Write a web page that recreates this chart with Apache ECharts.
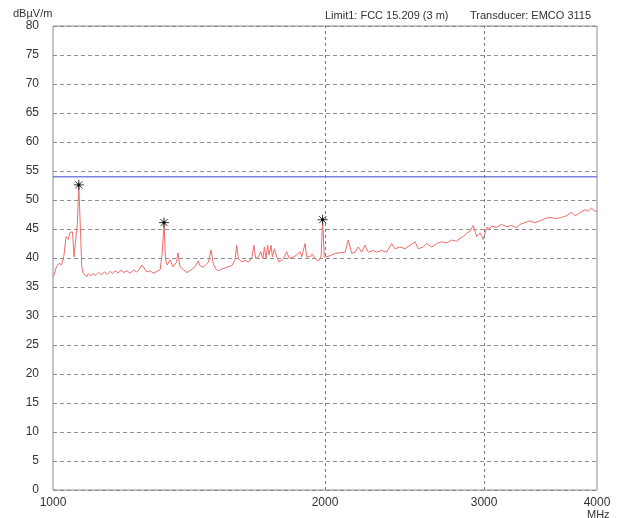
<!DOCTYPE html>
<html>
<head>
<meta charset="utf-8">
<script src="https://cdn.jsdelivr.net/npm/echarts@6/dist/echarts.min.js"></script>
<style>
  html, body { margin: 0; padding: 0; background: #fff; }
  #chart { width: 623px; height: 518px; }
</style>
</head>
<body>
<div id="chart"></div>
<script>
// Measured field strength sweep, 1–4 GHz
const freqMHz = [
  1001, 1009, 1016, 1022, 1028, 1034, 1037, 1040, 1044, 1049, 1051, 1055, 1060, 1064, 1068,
  1073, 1076, 1080, 1090, 1094, 1101, 1108, 1116, 1124, 1132, 1140, 1148, 1157, 1164, 1172,
  1181, 1189, 1198, 1206, 1217, 1227, 1238, 1246, 1254, 1261, 1270, 1280, 1291, 1303, 1314,
  1321, 1327, 1332, 1338, 1347, 1358, 1370, 1375, 1382, 1394, 1407, 1418, 1436, 1448, 1454,
  1467, 1486, 1496, 1505, 1514, 1524, 1537, 1557, 1577, 1590, 1597, 1604, 1618, 1631, 1645,
  1659, 1669, 1676, 1688, 1698, 1707, 1714, 1721, 1728, 1734, 1743, 1749, 1758, 1768, 1779,
  1791, 1803, 1814, 1826, 1845, 1861, 1877, 1885, 1901, 1909, 1925, 1936, 1950, 1966, 1980,
  1988, 1996, 2009, 2034, 2052, 2078, 2105, 2122, 2141, 2159, 2177, 2196, 2214, 2233, 2262,
  2282, 2311, 2340, 2370, 2390, 2421, 2452, 2484, 2516, 2537, 2569, 2592, 2625, 2659, 2693,
  2727, 2762, 2797, 2821, 2845, 2870, 2894, 2906, 2918, 2944, 2969, 2994, 3020, 3045, 3058,
  3098, 3137, 3178, 3218, 3260, 3287, 3329, 3372, 3415, 3459, 3504, 3548, 3610, 3656, 3703,
  3750, 3782, 3814, 3847, 3880, 3912, 3946, 3980, 4000
];
const levelDb = [
  36.8, 38.5, 39.1, 38.8, 40.3, 43.7, 44.0, 43.2, 44.4, 44.6, 44.5, 40.2, 40.2, 46.0, 52.6,
  43.7, 38.5, 37.4, 36.8, 37.3, 36.9, 37.3, 37.0, 37.5, 37.1, 37.6, 37.2, 37.7, 37.3, 37.8,
  37.4, 37.9, 37.5, 37.8, 37.4, 37.9, 37.6, 38.0, 38.8, 38.3, 37.6, 37.8, 37.4, 37.7, 38.0,
  40.9, 46.1, 39.7, 38.8, 39.7, 38.5, 39.3, 40.9, 38.5, 38.0, 37.5, 37.8, 38.5, 39.5, 38.7,
  38.4, 39.3, 41.4, 38.9, 38.1, 37.8, 38.1, 38.4, 38.7, 39.6, 42.2, 39.9, 39.3, 39.6, 39.3,
  39.9, 42.2, 39.9, 40.2, 41.1, 39.9, 41.9, 40.0, 42.2, 40.5, 42.2, 40.2, 41.6, 40.2, 39.3,
  39.6, 40.2, 41.1, 39.9, 40.2, 40.5, 41.1, 40.2, 42.5, 40.2, 40.2, 40.7, 39.9, 39.5, 40.2,
  46.6, 40.2, 40.2, 40.5, 40.8, 40.9, 41.0, 43.1, 40.8, 41.0, 41.9, 41.0, 42.2, 41.0, 41.3,
  41.0, 41.3, 41.0, 42.5, 41.6, 41.9, 41.6, 42.2, 42.8, 41.6, 41.9, 42.5, 41.9, 42.5, 42.8,
  42.6, 43.1, 42.9, 43.4, 43.7, 44.3, 44.6, 44.9, 45.6, 43.7, 44.3, 43.2, 45.3, 45.1, 45.5,
  45.3, 45.8, 45.4, 45.6, 45.2, 45.8, 46.1, 46.4, 46.1, 46.4, 46.8, 47.0, 46.8, 47.0, 47.3,
  47.9, 47.3, 47.6, 48.0, 48.3, 48.1, 48.6, 48.0, 48.2
];

// Peak markers
const peakFreqMHz = [1068, 1327, 1988];
const peakLevelDb = [52.6, 46.1, 46.6];

// FCC 15.209 (3 m) limit, 1–4 GHz
const limitDb = 54;
const limitFreqMHz = [1000, 4000];

// Axis ticks
const xTickMHz = [1000, 2000, 3000, 4000];
const xGridMHz = [2000, 3000];
const yMin = 0, yMax = 80, yStep = 5;

const FONT = '"Liberation Sans", Arial, sans-serif';
const TEXT = '#333';

const trace = freqMHz.map((f, i) => [f, levelDb[i]]);
const peaks = peakFreqMHz.map((f, i) => [f, peakLevelDb[i]]);
const limit = limitFreqMHz.map(f => [f, limitDb]);

const headerStyle = { fontFamily: FONT, fontSize: 11, fontWeight: 'normal', color: TEXT };

const chart = echarts.init(document.getElementById('chart'), null, { renderer: 'canvas' });

chart.setOption({
  animation: false,
  backgroundColor: '#fff',
  title: [
    { text: 'dBµV/m', left: 13, top: 8, padding: 0, textStyle: headerStyle },
    { text: 'Limit1: FCC 15.209 (3 m)', left: 325, top: 10, padding: 0, textStyle: headerStyle },
    { text: 'Transducer: EMCO 3115', left: 470, top: 10, padding: 0, textStyle: headerStyle },
    { text: 'MHz', left: 587, top: 509, padding: 0, textStyle: headerStyle }
  ],
  grid: {
    left: 53, right: 26, top: 26, bottom: 28,
    show: true, borderColor: '#8c8c8c', borderWidth: 1, backgroundColor: '#fff'
  },
  xAxis: {
    type: 'log',
    logBase: 10,
    min: 1000,
    max: 4000,
    axisLine: { show: false },
    axisTick: { show: false },
    splitLine: { show: false },
    minorSplitLine: { show: false },
    axisLabel: {
      customValues: xTickMHz,
      formatter: v => String(Math.round(v)),
      margin: 7,
      fontFamily: FONT, fontSize: 12, color: TEXT
    }
  },
  yAxis: {
    type: 'value',
    min: yMin,
    max: yMax,
    interval: yStep,
    axisLine: { show: false },
    axisTick: { show: false },
    axisLabel: { margin: 14, fontFamily: FONT, fontSize: 12, color: TEXT },
    splitLine: {
      show: true,
      lineStyle: { color: '#8f8f8f', width: 1, type: [4, 3] }
    }
  },
  series: [
    {
      name: 'grid',
      type: 'line',
      data: [],
      silent: true,
      markLine: {
        silent: true,
        symbol: 'none',
        label: { show: false },
        lineStyle: { color: '#7a7a7a', width: 1, type: [3, 3] },
        data: xGridMHz.map(f => ({ xAxis: f }))
      }
    },
    {
      name: 'Limit1',
      type: 'line',
      data: limit,
      showSymbol: false,
      silent: true,
      lineStyle: { color: '#7d82dc', width: 1.5 },
      z: 3
    },
    {
      name: 'Level',
      type: 'line',
      data: trace,
      showSymbol: false,
      silent: true,
      lineStyle: { color: '#f06b6b', width: 1 },
      z: 4
    },
    {
      name: 'Peaks',
      type: 'custom',
      data: peaks,
      silent: true,
      z: 5,
      renderItem: (params, api) => {
        const c = api.coord([api.value(0), api.value(1)]);
        const r = 5;
        const d = r * 0.7071;
        const spokes = [
          [c[0] - r, c[1], c[0] + r, c[1]],
          [c[0], c[1] - r, c[0], c[1] + r],
          [c[0] - d, c[1] - d, c[0] + d, c[1] + d],
          [c[0] - d, c[1] + d, c[0] + d, c[1] - d]
        ];
        return {
          type: 'group',
          children: spokes.map(s => ({
            type: 'line',
            shape: { x1: s[0], y1: s[1], x2: s[2], y2: s[3] },
            style: { stroke: '#333', lineWidth: 1 }
          })).concat([{
            type: 'circle',
            shape: { cx: c[0], cy: c[1], r: 1.6 },
            style: { fill: '#111' }
          }])
        };
      }
    }
  ]
});
</script>
</body>
</html>
